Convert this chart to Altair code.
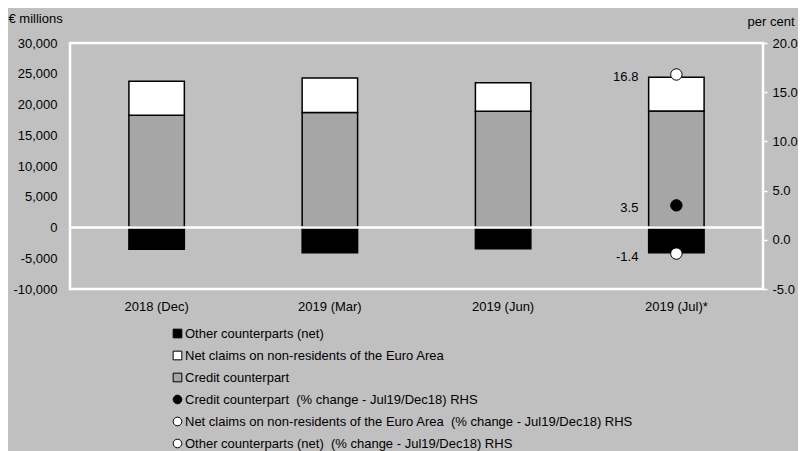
import altair as alt
import pandas as pd

# ---- data ----
periods = ["2018 (Dec)", "2019 (Mar)", "2019 (Jun)", "2019 (Jul)*"]
credit = [18250, 18700, 18900, 18950]
net_claims = [5550, 5600, 4650, 5500]
other = [-3550, -4100, -3450, -4100]

bar_series = [
    "Other counterparts (net)",
    "Net claims on non-residents of the Euro Area",
    "Credit counterpart",
]
pct_series = [
    "Credit counterpart \u00a0(% change - Jul19/Dec18) RHS",
    "Net claims on non-residents of the Euro Area \u00a0(% change - Jul19/Dec18) RHS",
    "Other counterparts (net) \u00a0(% change - Jul19/Dec18) RHS",
]
pct_period = "2019 (Jul)*"
pct_values = [3.5, 16.8, -1.4]

left_ticks = [-10000, -5000, 0, 5000, 10000, 15000, 20000, 25000, 30000]
right_ticks = [-5, 0, 5, 10, 15, 20]

legend_order = bar_series + pct_series
legend_fills = ["#000000", "#ffffff", "#a6a6a6", "#000000", "#ffffff", "#ffffff"]
legend_shapes = ["square", "square", "square", "circle", "circle", "circle"]
stack_order = ["Credit counterpart", "Net claims on non-residents of the Euro Area", "Other counterparts (net)"]

FONT = "Liberation Sans"

rows = []
for i, p in enumerate(periods):
    rows.append({"period": p, "series": "Credit counterpart", "value": credit[i]})
    rows.append({"period": p, "series": "Net claims on non-residents of the Euro Area", "value": net_claims[i]})
    rows.append({"period": p, "series": "Other counterparts (net)", "value": other[i]})
bars_df = pd.DataFrame(rows)
pct_df = pd.DataFrame({"period": [pct_period] * 3, "series": pct_series, "pct": pct_values})
zero_df = pd.DataFrame({"zero": [0]})

x_scale = alt.Scale(domain=periods, paddingInner=0.68, paddingOuter=0.34)
x_axis = alt.Axis(title=None, labelAngle=0, ticks=False, domain=False, labelPadding=11)
left_scale = alt.Scale(domain=[-10000, 30000], nice=False, zero=False)
right_scale = alt.Scale(domain=[-5, 20], nice=False, zero=False)
fill_scale = alt.Scale(domain=legend_order, range=legend_fills)
shape_scale = alt.Scale(domain=legend_order, range=legend_shapes)
legend = alt.Legend(title=None)

bars = alt.Chart(bars_df).transform_calculate(
    ord=f"indexof({stack_order!r}, datum.series)"
).mark_bar(stroke="black", strokeWidth=1.5).encode(
    x=alt.X("period:N", sort=periods, scale=x_scale, axis=x_axis),
    y=alt.Y("value:Q", stack="zero", scale=left_scale,
            axis=alt.Axis(values=left_ticks,
                          labelExpr="replace(format(datum.value, ','), '\u2212', '-')",
                          ticks=False, domain=False, labelPadding=13,
                          title="€ millions", titleAngle=0, titleAlign="left", titleBaseline="middle",
                          titleX=-62, titleY=-25)),
    fill=alt.Fill("series:N", scale=fill_scale, legend=legend),
    order=alt.Order("ord:Q"),
)

zero_rule = alt.Chart(zero_df).mark_rule(color="white", strokeWidth=2.5).encode(
    y=alt.Y("zero:Q", scale=left_scale, axis=None)
)

points = alt.Chart(pct_df).mark_point(filled=True, size=130, stroke="black", strokeWidth=1, opacity=1).encode(
    x=alt.X("period:N", sort=periods, scale=x_scale, axis=x_axis),
    y=alt.Y("pct:Q", scale=right_scale,
            axis=alt.Axis(orient="right", values=right_ticks,
                          labelExpr="replace(format(datum.value, '.1f'), '\u2212', '-')",
                          ticks=True, tickColor="white",
                          tickSize=4, tickWidth=1.5, domain=False, labelPadding=5,
                          title="per cent", titleAngle=0, titleAlign="right", titleBaseline="middle",
                          titleX=31, titleY=-22)),
    fill=alt.Fill("series:N", scale=fill_scale, legend=legend),
    shape=alt.Shape("series:N", scale=shape_scale, legend=legend),
)

labels = alt.Chart(pct_df).transform_calculate(
    lab="replace(format(datum.pct, '.1f'), '\u2212', '-')"
).mark_text(align="right", baseline="middle", dx=-38, dy=3,
            font=FONT, fontSize=13, color="black").encode(
    x=alt.X("period:N", sort=periods, scale=x_scale, axis=x_axis),
    y=alt.Y("pct:Q", scale=right_scale, axis=None),
    text=alt.Text("lab:N"),
)

chart = alt.layer(bars, zero_rule, points, labels).resolve_scale(y="independent").properties(
    width=693,
    height=246,
    background="#c0c0c0",
    padding={"left": 62, "top": 35, "right": 35, "bottom": 163},
    autosize=alt.AutoSizeParams(type="none"),
).configure_view(
    stroke="white", strokeWidth=2.5
).configure_axis(
    labelFont=FONT, labelFontSize=13, labelColor="black",
    titleFont=FONT, titleFontSize=13, titleFontWeight="normal", titleColor="black",
    grid=False,
).configure_legend(
    orient="none", legendX=101, legendY=284, direction="vertical",
    labelFont=FONT, labelFontSize=13, labelColor="black", labelLimit=700, labelOffset=1,
    symbolSize=75, symbolStrokeColor="black", symbolStrokeWidth=1, rowPadding=8, padding=0,
)

chart.save("out.html", embed_options={"renderer": "svg", "actions": False})
